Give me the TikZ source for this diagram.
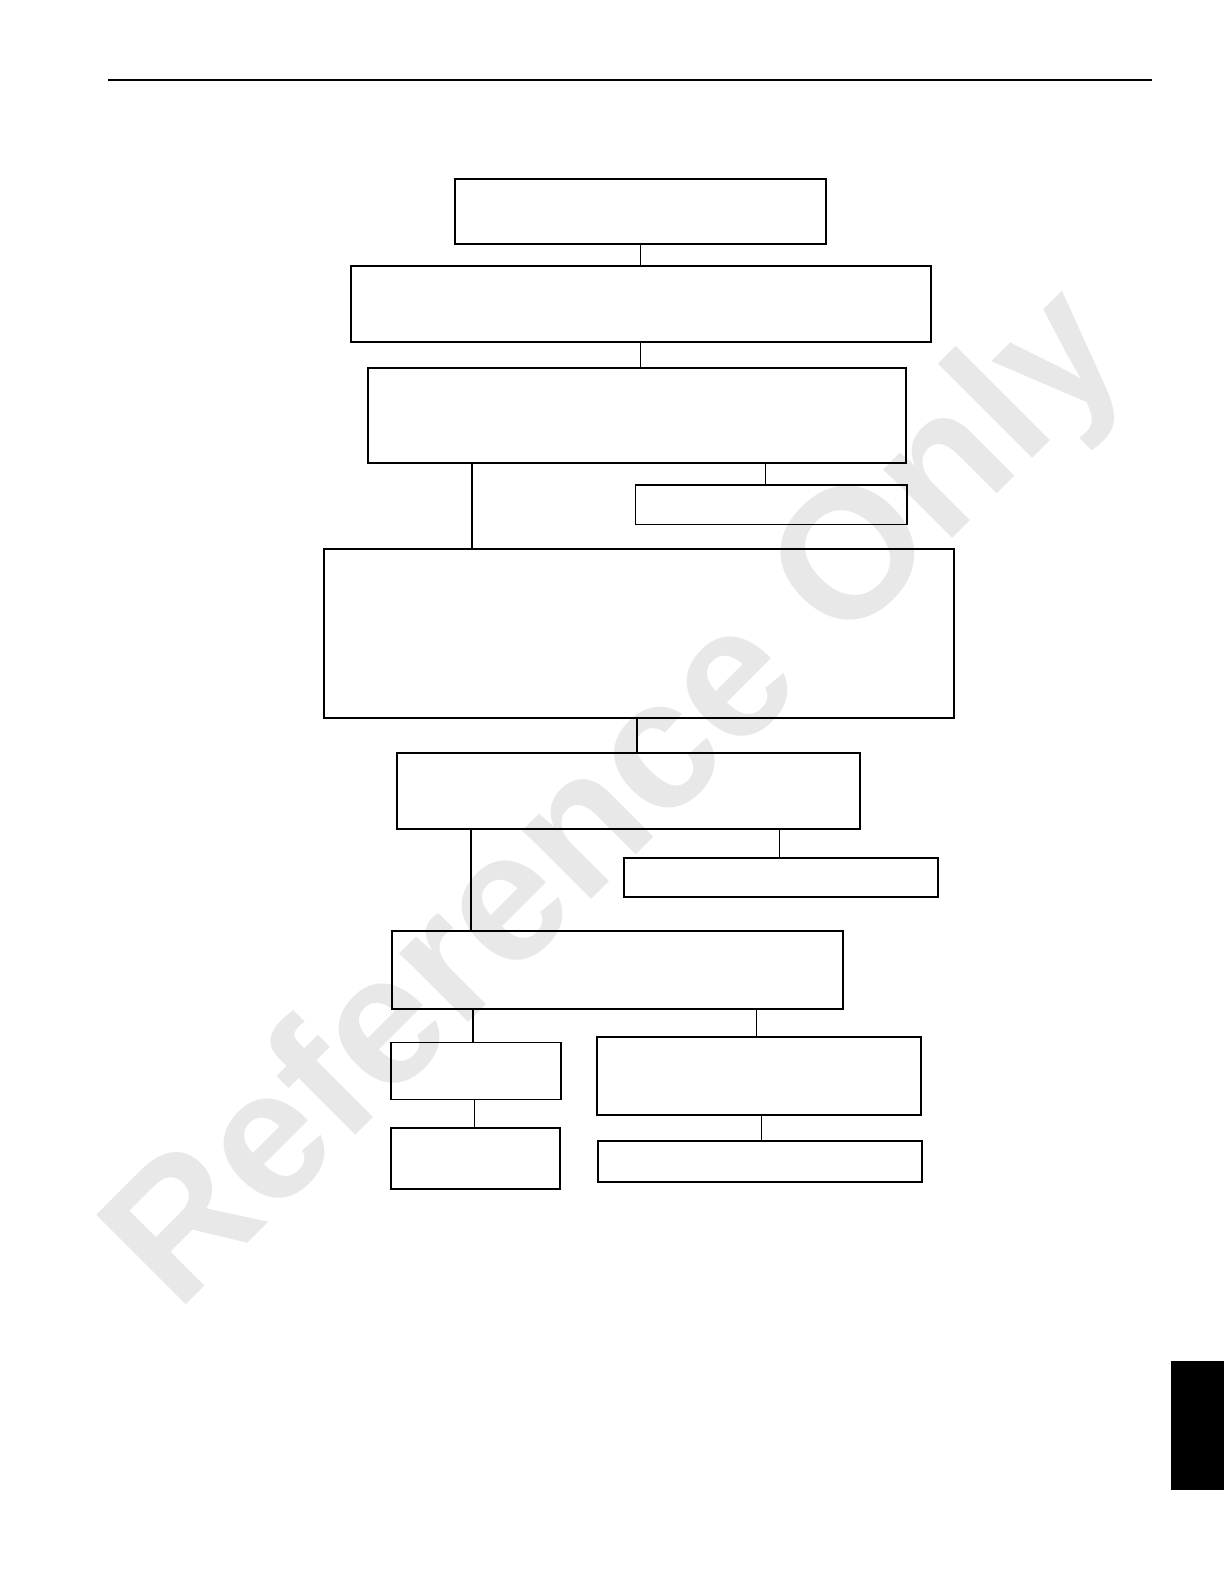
\documentclass[tikz,border=0pt]{standalone}
\usepackage{fontspec}
\newfontfamily\wmfont{Liberation Sans}
\begin{document}
\begin{tikzpicture}[x=0.5pt,y=-0.5pt,
  box/.style={draw=black,line width=1pt,inner sep=0pt,minimum width=#1},
  thinbox/.style={draw=black,line width=0.7pt,inner sep=0pt},
  conn/.style={draw=black,line width=0.6pt},
  thickconn/.style={draw=black,line width=1.1pt},
  wmark/.style={text=black!9,font=\wmfont\bfseries\fontsize{92pt}{92pt}\selectfont,inner sep=0pt}]
\useasboundingbox[fill=white] (0,0) rectangle (1224,1584);
% watermark
\node[wmark,rotate=45,anchor=base west] (wm) at (177,1314) {Reference Only};
% top rule
\coordinate (ruleL) at (108,80);
\coordinate (ruleR) at (1152,80);
\draw[line width=1pt] (ruleL) -- (ruleR);
% tab
\fill[black] (1171,1361) rectangle (1224,1490);
% boxes
\node[box=185.5pt,minimum height=32.5pt] (b1) at (640.5,211.5) {};
\node[box=289.75pt,minimum height=38pt] (b2) at (640.75,304) {};
\node[box=269pt,minimum height=47.5pt] (b3) at (637,415.5) {};
\node[thinbox,minimum width=135.8pt,minimum height=19.65pt] (b4) at (771.2,504.6) {};
\node[box=315pt,minimum height=84.5pt] (b5) at (639,633.5) {};
\node[box=231.5pt,minimum height=37.85pt] (b6) at (628.5,791.2) {};
\node[box=156.75pt,minimum height=19.35pt] (b7) at (781.2,877.6) {};
\node[box=225.5pt,minimum height=39pt] (b8) at (617.5,969.7) {};
\node[thinbox,minimum width=85pt,minimum height=28.3pt] (b9) at (476,1071) {};
\node[box=84.5pt,minimum height=30.35pt] (b10) at (475.5,1158.3) {};
\node[box=162.25pt,minimum height=39pt] (b11) at (759.2,1076) {};
\node[box=162.25pt,minimum height=20.5pt] (b12) at (759.8,1161.8) {};
% connector x positions
\coordinate (xa) at (640.5,0);
\coordinate (xb) at (471.7,0);
\coordinate (xc) at (765.5,0);
\coordinate (xd) at (636.7,0);
\coordinate (xe) at (470.9,0);
\coordinate (xf) at (779.4,0);
\coordinate (xg) at (473.2,0);
\coordinate (xh) at (756.4,0);
\coordinate (xi) at (474.7,0);
\coordinate (xj) at (761.5,0);
% connectors
\draw[conn] (b1.south -| xa) -- (b2.north -| xa);
\draw[conn] (b2.south -| xa) -- (b3.north -| xa);
\draw[thickconn] (b3.south -| xb) -- (b5.north -| xb);
\draw[conn] (b3.south -| xc) -- (b4.north -| xc);
\draw[thickconn] (b5.south -| xd) -- (b6.north -| xd);
\draw[thickconn] (b6.south -| xe) -- (b8.north -| xe);
\draw[conn] (b6.south -| xf) -- (b7.north -| xf);
\draw[thickconn] (b8.south -| xg) -- (b9.north -| xg);
\draw[conn] (b8.south -| xh) -- (b11.north -| xh);
\draw[conn] (b9.south -| xi) -- (b10.north -| xi);
\draw[conn] (b11.south -| xj) -- (b12.north -| xj);
\end{tikzpicture}
\end{document}
